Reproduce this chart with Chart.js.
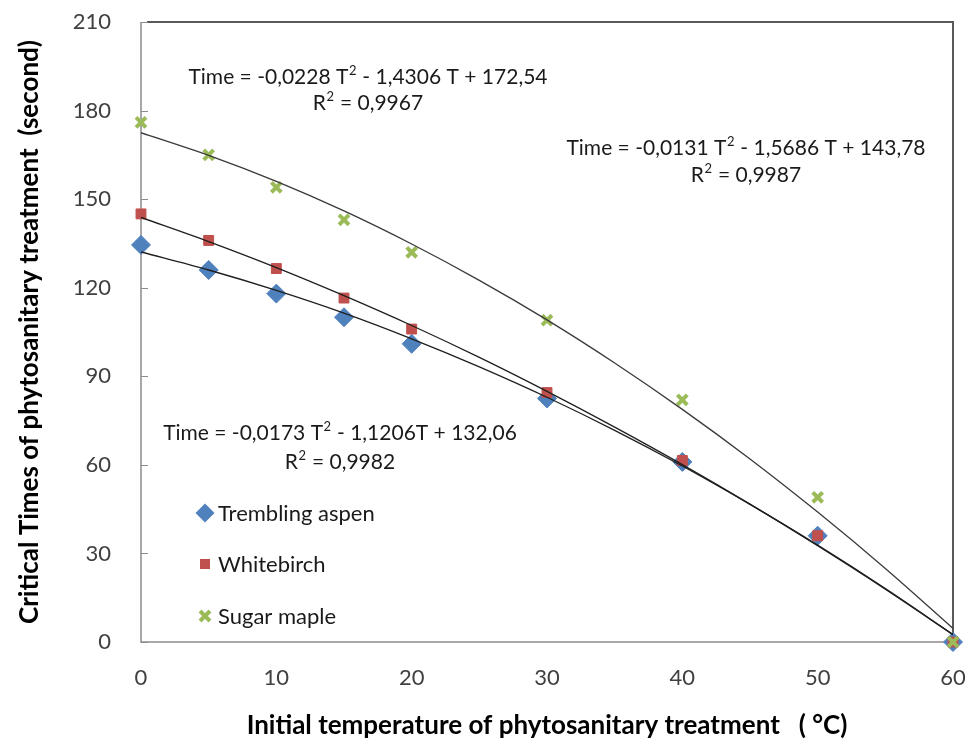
<!DOCTYPE html>
<html>
<head>
<meta charset="utf-8">
<script src="https://cdn.jsdelivr.net/npm/chart.js@4/dist/chart.umd.min.js"></script>
<style>
  html, body { margin: 0; padding: 0; background: #fff; }
  #wrap { width: 978px; height: 744px; position: relative; }
</style>
</head>
<body>
<div id="wrap"><canvas id="myChart" width="978" height="744"></canvas></div>
<script>
// measured points (temperature in degC -> critical time in s)
var temps = [0, 5, 10, 15, 20, 30, 40, 50, 60]
var aspen = [134.5, 126, 118, 110, 101, 82.5, 61, 36, 0]
var birch = [145, 136, 126.5, 116.5, 106, 84.5, 61.5, 36, 0]
var maple = [176, 165, 154, 143, 132, 109, 82, 49, 0]

// trend lines
var fitTemps = [0, 5, 10, 15, 20, 25, 30, 35, 40, 45, 50, 55, 60]
var aspenFit = [132.1, 126.0, 119.1, 111.4, 102.7, 93.2, 82.9, 71.7, 59.6, 46.6, 32.8, 18.1, 2.5]
var birchFit = [143.8, 135.6, 126.8, 117.3, 107.2, 96.4, 84.9, 72.8, 60.1, 46.7, 32.6, 17.9, 2.5]
var mapleFit = [172.5, 164.8, 156.0, 146.0, 134.8, 122.5, 109.1, 94.5, 78.8, 62.0, 44.0, 24.9, 4.6]

var xTicks = [0, 10, 20, 30, 40, 50, 60]
var yTicks = [0, 30, 60, 90, 120, 150, 180, 210]

var seriesNames = ["Trembling aspen", "Whitebirch", "Sugar maple"]
// "^2" marks a superscript two
var equations = [
    ["Time = -0,0173 T^2 - 1,1206T + 132,06", "R^2 = 0,9982"],
    ["Time = -0,0131 T^2 - 1,5686 T + 143,78", "R^2 = 0,9987"],
    ["Time = -0,0228 T^2 - 1,4306 T + 172,54", "R^2 = 0,9967"]
]

var BLUE = "#4F81BD", RED = "#C0504D", GREEN = "#9BBB59"
var FONT = "Lato, 'Open Sans', sans-serif"

function pts(xs, ys) {
    return xs.map(function (x, i) { return { x: x, y: ys[i] } })
}

function fitLine(ys, color) {
    return {
        type: "line",
        data: pts(fitTemps, ys),
        borderColor: color,
        borderWidth: 1.3,
        pointRadius: 0,
        cubicInterpolationMode: "monotone",
        fill: false,
        order: 0
    }
}

// text with small raised "2" where "^2" appears, centred on cx
function drawSup(ctx, text, cx, cy, size) {
    var parts = text.split("^2")
    var big = size + "px " + FONT, small = Math.round(size * 0.62) + "px " + FONT
    ctx.font = big
    var total = 0
    parts.forEach(function (p, i) {
        ctx.font = big; total += ctx.measureText(p).width
        if (i < parts.length - 1) { ctx.font = small; total += ctx.measureText("2").width + 1 }
    })
    var x = cx - total / 2
    ctx.textAlign = "left"
    ctx.textBaseline = "middle"
    parts.forEach(function (p, i) {
        ctx.font = big; ctx.fillText(p, x, cy); x += ctx.measureText(p).width
        if (i < parts.length - 1) {
            ctx.font = small; ctx.fillText("2", x + 0.5, cy - size * 0.3)
            x += ctx.measureText("2").width + 1
        }
    })
}

function drawMarker(ctx, kind, x, y) {
    ctx.save()
    if (kind === 0) {
        ctx.fillStyle = BLUE
        ctx.beginPath()
        ctx.moveTo(x, y - 9.5); ctx.lineTo(x + 9.5, y); ctx.lineTo(x, y + 9.5); ctx.lineTo(x - 9.5, y)
        ctx.closePath(); ctx.fill()
    } else if (kind === 1) {
        ctx.fillStyle = RED
        ctx.fillRect(x - 5, y - 5, 10, 10)
    } else {
        ctx.strokeStyle = GREEN
        ctx.lineWidth = 4
        ctx.beginPath()
        ctx.moveTo(x - 5, y - 5); ctx.lineTo(x + 5, y + 5)
        ctx.moveTo(x + 5, y - 5); ctx.lineTo(x - 5, y + 5)
        ctx.stroke()
    }
    ctx.restore()
}

// frame, inside ticks, equations and legend
var decorations = {
    id: "decorations",
    beforeDatasetsDraw: function (chart) {
        var ctx = chart.ctx
        var a = chart.chartArea
        var ys = chart.scales.y
        ctx.save()
        ctx.lineWidth = 2
        ctx.strokeStyle = "#595959"
        ctx.beginPath()
        ctx.moveTo(a.left + 6, a.top); ctx.lineTo(a.right, a.top); ctx.lineTo(a.right, a.bottom)
        ctx.stroke()
        ctx.lineWidth = 1.5
        ctx.strokeStyle = "#8c8c8c"
        ctx.beginPath()
        ctx.moveTo(a.left, a.top); ctx.lineTo(a.left, a.bottom); ctx.lineTo(a.right, a.bottom)
        ctx.stroke()
        // y ticks drawn inside the plot
        ctx.lineWidth = 1
        yTicks.forEach(function (v) {
            var py = Math.round(ys.getPixelForValue(v)) + 0.5
            ctx.beginPath(); ctx.moveTo(a.left, py); ctx.lineTo(a.left + 7, py); ctx.stroke()
        })
        ctx.restore()
    },
    afterDatasetsDraw: function (chart) {
        var ctx = chart.ctx
        ctx.save()
        ctx.fillStyle = "#1a1a1a"
        var eqPos = [[340, 433, 462], [746, 148, 175], [368, 77, 103]]
        equations.forEach(function (eq, i) {
            drawSup(ctx, eq[0], eqPos[i][0], eqPos[i][1], 21)
            drawSup(ctx, eq[1], eqPos[i][0], eqPos[i][2], 21)
        })

        // legend inside plot
        ctx.font = "22px " + FONT
        ctx.textAlign = "left"
        ctx.textBaseline = "middle"
        var legY = [513, 564, 616]
        seriesNames.forEach(function (name, i) {
            drawMarker(ctx, i, 205, legY[i])
            ctx.fillStyle = "#1a1a1a"
            ctx.fillText(name, 218, legY[i] + 1)
        })
        ctx.restore()
    }
}

function noPad(s) {
    s.paddingTop = 0; s.paddingBottom = 0; s.paddingLeft = 0; s.paddingRight = 0
}

var chartField = document.querySelector("#myChart").getContext("2d")

var myChart = new Chart(chartField, {
    type: "scatter",
    data: {
        datasets: [
            fitLine(aspenFit, "#1f1f1f"),
            fitLine(birchFit, "#1f1f1f"),
            fitLine(mapleFit, "#3a3a3a"),
            {
                label: seriesNames[0],
                data: pts(temps, aspen),
                backgroundColor: BLUE,
                borderColor: BLUE,
                pointStyle: "rectRot",
                pointRadius: 9.5,
                clip: false,
                order: 3
            },
            {
                label: seriesNames[1],
                data: pts(temps, birch),
                backgroundColor: RED,
                borderColor: RED,
                pointStyle: "rect",
                pointRadius: 7,
                clip: false,
                order: 2
            },
            {
                label: seriesNames[2],
                data: pts(temps, maple),
                backgroundColor: GREEN,
                borderColor: GREEN,
                pointStyle: "crossRot",
                pointRadius: 7,
                borderWidth: 4,
                clip: false,
                order: 1
            }
        ]
    },
    options: {
        responsive: false,
        animation: false,
        layout: { padding: { top: 22, right: 25, left: 0, bottom: 0 } },
        plugins: { legend: { display: false }, tooltip: { enabled: false } },
        scales: {
            x: {
                type: "linear",
                min: 0, max: 60,
                afterBuildTicks: function (s) { s.ticks = xTicks.map(function (v) { return { value: v } }) },
                afterFit: function (s) { s.height = 102; noPad(s) },
                grid: { display: false },
                border: { display: false },
                ticks: { color: "#404040", font: { family: FONT, size: 22 }, padding: 15, maxRotation: 0 },
                title: {
                    display: true,
                    text: "Initial temperature of phytosanitary treatment   ( \u00B0C)",
                    color: "#000",
                    font: { family: FONT, size: 26, weight: "bold" },
                    padding: { top: 0, bottom: 3 }
                }
            },
            y: {
                min: 0, max: 210,
                afterBuildTicks: function (s) { s.ticks = yTicks.map(function (v) { return { value: v } }) },
                afterFit: function (s) { s.width = 141; noPad(s) },
                grid: { display: false },
                border: { display: false },
                ticks: { color: "#404040", font: { family: FONT, size: 22 }, padding: 22 },
                title: {
                    display: true,
                    text: "Critical Times of phytosanitary treatment  (second)",
                    color: "#000",
                    font: { family: FONT, size: 26, weight: "bold" },
                    padding: { top: 14, bottom: 0 }
                }
            }
        }
    },
    plugins: [decorations]
})
</script>
</body>
</html>
